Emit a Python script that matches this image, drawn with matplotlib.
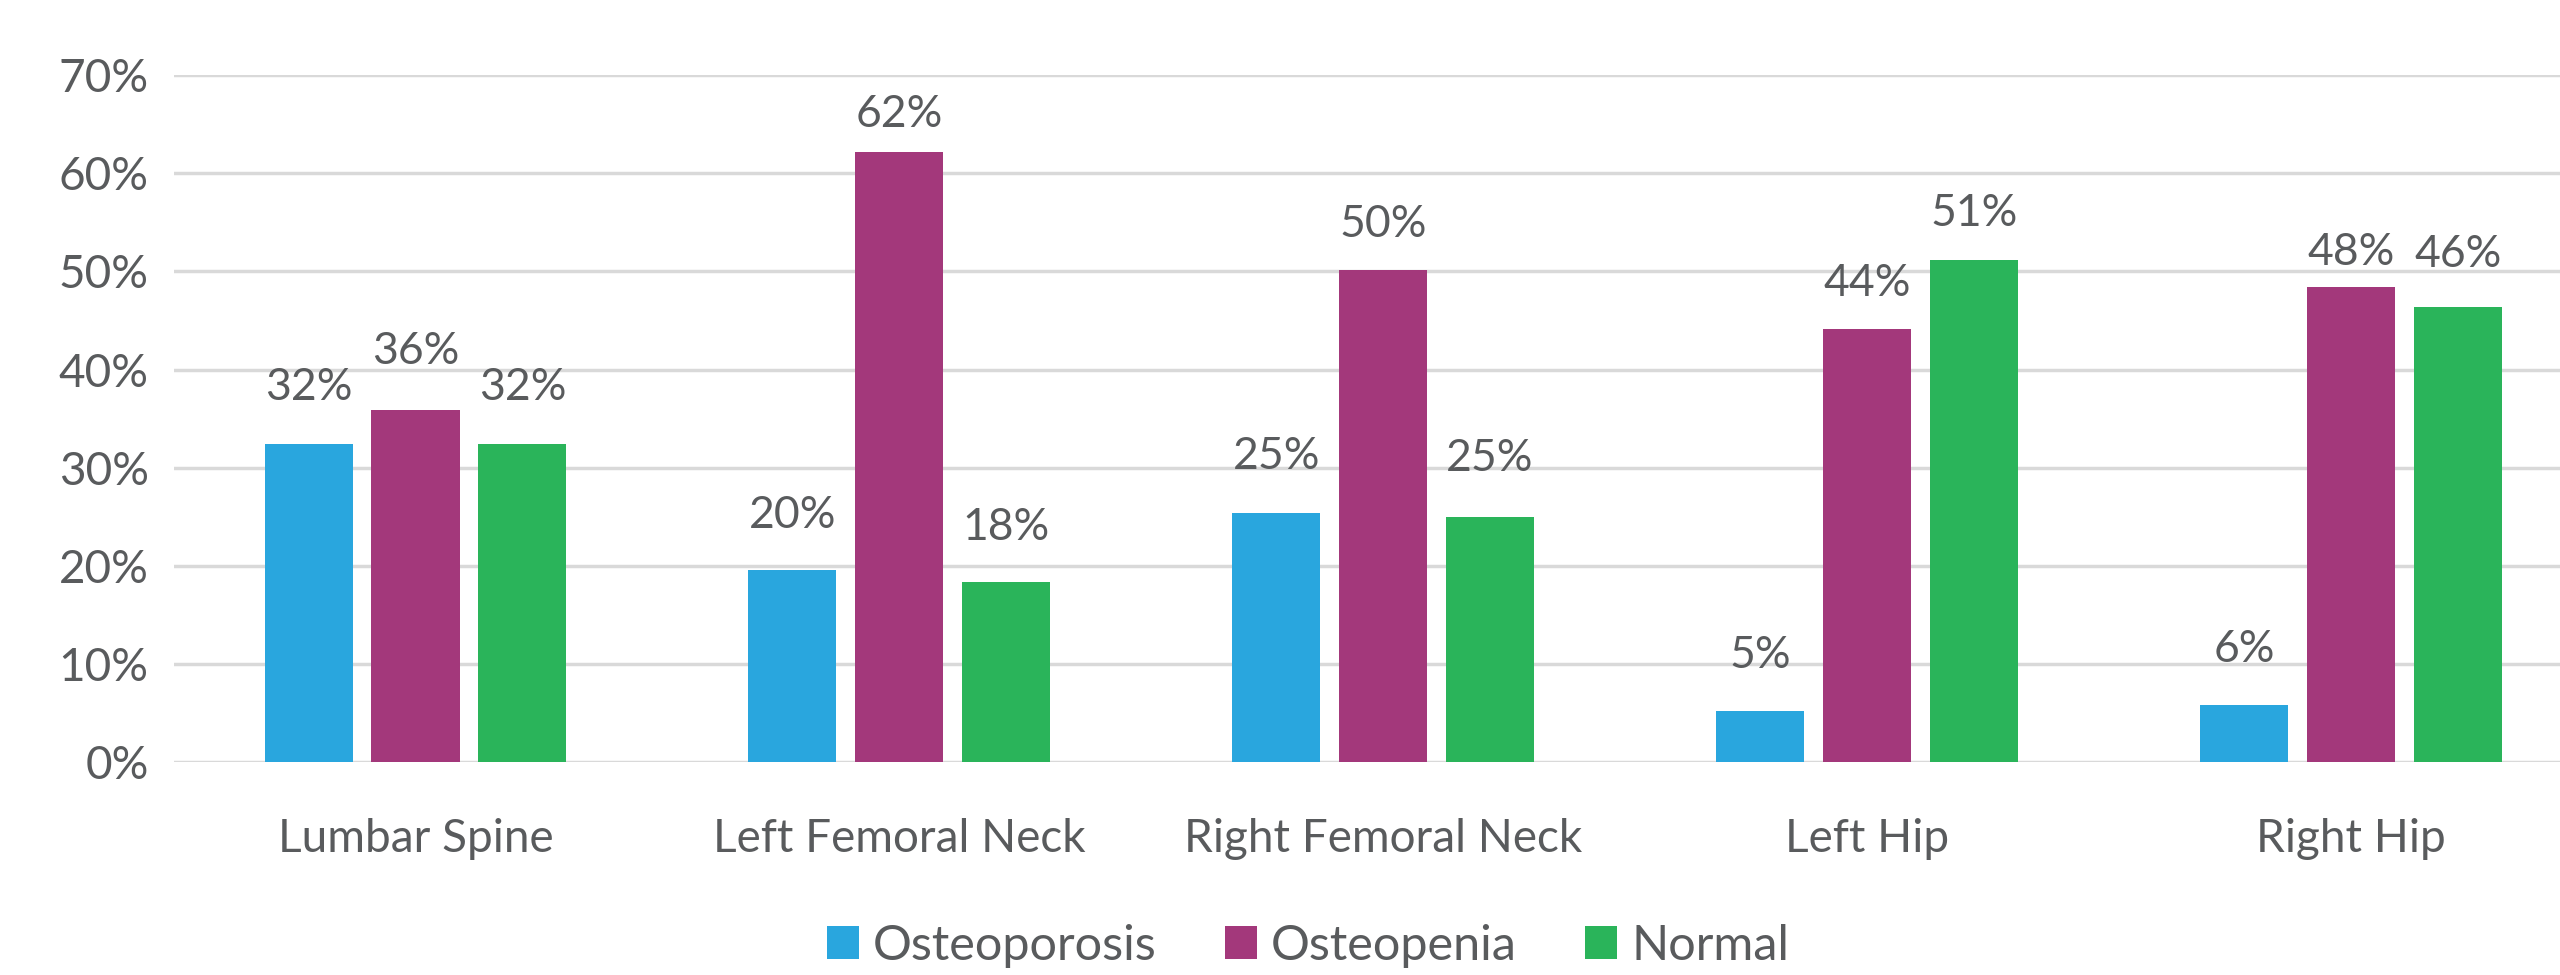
import matplotlib.pyplot as plt
import numpy as np

# data
categories = ['Lumbar Spine', 'Left Femoral Neck', 'Right Femoral Neck', 'Left Hip', 'Right Hip']
osteoporosis = [32.4, 19.6, 25.4, 5.2, 5.8]
osteopenia = [35.9, 62.2, 50.1, 44.1, 48.4]
normal = [32.4, 18.4, 25.0, 51.2, 46.4]
series_names = ['Osteoporosis', 'Osteopenia', 'Normal']
yticks = [0, 10, 20, 30, 40, 50, 60, 70]

# label lift above each bar top (points), as placed in the original
lift = [[41, 39, 41, 40, 40],
        [42, 27, 33, 33, 25],
        [41, 39, 42, 33, 38]]

# colours
c_blue = '#29A6DE'
c_purple = '#A3387B'
c_green = '#2AB45A'
c_text = '#595B5D'
c_grid = '#D9D9D9'

plt.rcParams['font.family'] = ['Lato', 'DejaVu Sans']

fig = plt.figure(figsize=(25.6, 9.75), dpi=100)
ax = fig.add_axes([0.0678, 0.218, 0.945, 0.705])

x = np.arange(len(categories))
width = 0.182
step = 0.221

series = [osteoporosis, osteopenia, normal]
colors = [c_blue, c_purple, c_green]

for i, (vals, col, name) in enumerate(zip(series, colors, series_names)):
    bars = ax.bar(x + (i - 1) * step, vals, width, color=col, label=name, zorder=3)
    for j, (b, v) in enumerate(zip(bars, vals)):
        ax.annotate(f'{v:.0f}%', (b.get_x() + b.get_width() / 2, v),
                    xytext=(0, lift[i][j]), textcoords='offset points',
                    ha='center', va='center', fontsize=32, color=c_text)

ax.set_xlim(-0.5, len(categories) - 0.5)
ax.set_ylim(0, 70)
ax.set_yticks(yticks)
ax.set_yticklabels([f'{t}%' for t in yticks])
ax.set_xticks(x)
ax.set_xticklabels(categories)

ax.yaxis.grid(True, color=c_grid, lw=2.5, zorder=0)
ax.set_axisbelow(True)
for s in ax.spines.values():
    s.set_visible(False)
ax.tick_params(axis='both', length=0, colors=c_text, labelsize=33)
ax.tick_params(axis='y', pad=18)
ax.tick_params(axis='x', pad=40)

fig.legend(loc='center', bbox_to_anchor=(0.511, 0.03), ncol=3, frameon=False,
           fontsize=35, labelcolor=c_text, handlelength=0.65, handleheight=0.65,
           handletextpad=0.3, columnspacing=1.4)

fig.savefig('out.png', dpi=100)
